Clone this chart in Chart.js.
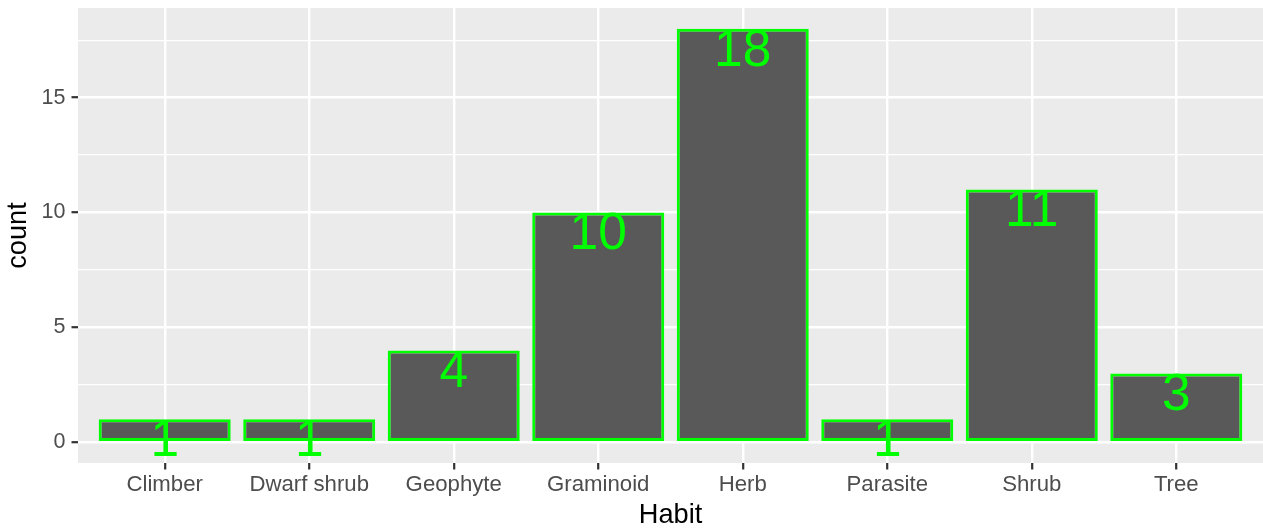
<!DOCTYPE html>
<html>
<head>
<meta charset="utf-8">
<script src="https://cdn.jsdelivr.net/npm/chart.js@4/dist/chart.umd.min.js"></script>
<style>
  html, body { margin: 0; padding: 0; background: #ffffff; }
  #wrap { width: 1263px; height: 532px; position: relative; }
</style>
</head>
<body>
<div id="wrap"><canvas id="c"></canvas></div>
<script>
// ---- data ----
const categories = ['Climber', 'Dwarf shrub', 'Geophyte', 'Graminoid', 'Herb', 'Parasite', 'Shrub', 'Tree'];
const counts = [1, 1, 4, 10, 18, 1, 11, 3];
const yMajorTicks = [0, 5, 10, 15];
const yMinorTicks = [2.5, 7.5, 12.5, 17.5];
const xTitle = 'Habit';
const yTitle = 'count';

// ---- styling ----
const FONT = '"Liberation Sans", Arial, Helvetica, sans-serif';
const LABEL_SIZE = 51.5;

const panelBg = {
  id: 'panelBg',
  beforeDraw(chart) {
    const { ctx, chartArea: a } = chart;
    ctx.save();
    ctx.fillStyle = '#EBEBEB';
    ctx.fillRect(a.left, a.top, a.right - a.left, a.bottom - a.top);
    ctx.restore();
  }
};

const valueLabels = {
  id: 'valueLabels',
  afterDatasetsDraw(chart) {
    const { ctx } = chart;
    const meta = chart.getDatasetMeta(0);
    ctx.save();
    ctx.fillStyle = '#00FF00';
    ctx.font = LABEL_SIZE + 'px ' + FONT;
    ctx.textAlign = 'center';
    ctx.textBaseline = 'alphabetic';
    meta.data.forEach((bar, i) => {
      ctx.fillText(String(counts[i]), bar.x, bar.y + 0.716 * LABEL_SIZE);
    });
    ctx.restore();
  }
};

const isMajor = v => Math.abs(v % 5) < 1e-9;

new Chart(document.getElementById('c'), {
  type: 'bar',
  data: {
    datasets: [{
      data: categories.map((c, i) => ({ x: i + 1, y: counts[i] })),
      backgroundColor: '#595959',
      borderColor: '#00FF00',
      borderWidth: 3,
      borderSkipped: false,
      barPercentage: 0.9135,
      categoryPercentage: 1.0
    }]
  },
  options: {
    responsive: true,
    maintainAspectRatio: false,
    animation: false,
    devicePixelRatio: 1,
    layout: { padding: { top: 8, right: 0, left: 0, bottom: 0 } },
    plugins: { legend: { display: false }, tooltip: { enabled: false } },
    scales: {
      x: {
        type: 'linear',
        min: 0.4,
        max: 8.6,
        offset: false,
        afterBuildTicks(scale) {
          scale.ticks = categories.map((c, i) => ({ value: i + 1 }));
        },
        afterFit(scale) {
          scale.height = 69;
          scale.paddingLeft = 0; scale.paddingRight = 0;
        },
        border: { display: false },
        grid: {
          offset: false,
          color: '#FFFFFF',
          lineWidth: 2.4,
          drawTicks: true,
          tickLength: 6.5,
          tickColor: '#333333',
          tickWidth: 2.2
        },
        ticks: {
          autoSkip: false,
          maxRotation: 0,
          padding: 2,
          color: '#4D4D4D',
          font: { family: FONT, size: 22.2 },
          callback: (v) => categories[Math.round(v) - 1] ?? ''
        },
        title: {
          display: true,
          text: xTitle,
          color: '#000000',
          font: { family: FONT, size: 27.2, lineHeight: 1.2 },
          padding: { top: 0, bottom: 0 }
        }
      },
      y: {
        type: 'linear',
        min: -0.9,
        max: 18.9,
        afterBuildTicks(scale) {
          scale.ticks = [...yMajorTicks, ...yMinorTicks].sort((a, b) => a - b).map(v => ({ value: v }));
        },
        afterFit(scale) {
          scale.width = 78;
          scale.paddingTop = 0; scale.paddingBottom = 0;
        },
        border: { display: false },
        grid: {
          color: '#FFFFFF',
          lineWidth: (ctx) => (ctx.tick && isMajor(ctx.tick.value)) ? 2.4 : 1.2,
          drawTicks: true,
          tickLength: 6.5,
          tickColor: (ctx) => (ctx.tick && isMajor(ctx.tick.value)) ? '#333333' : 'rgba(0,0,0,0)',
          tickWidth: 2.2
        },
        ticks: {
          padding: 6,
          color: '#4D4D4D',
          font: { family: FONT, size: 21.5 },
          callback: (v) => yMajorTicks.includes(v) ? String(v) : ''
        },
        title: {
          display: true,
          text: yTitle,
          color: '#000000',
          font: { family: FONT, size: 27.2, lineHeight: 1.2 },
          padding: { top: 2, bottom: 0 }
        }
      }
    }
  },
  plugins: [panelBg, valueLabels]
});
</script>
</body>
</html>
